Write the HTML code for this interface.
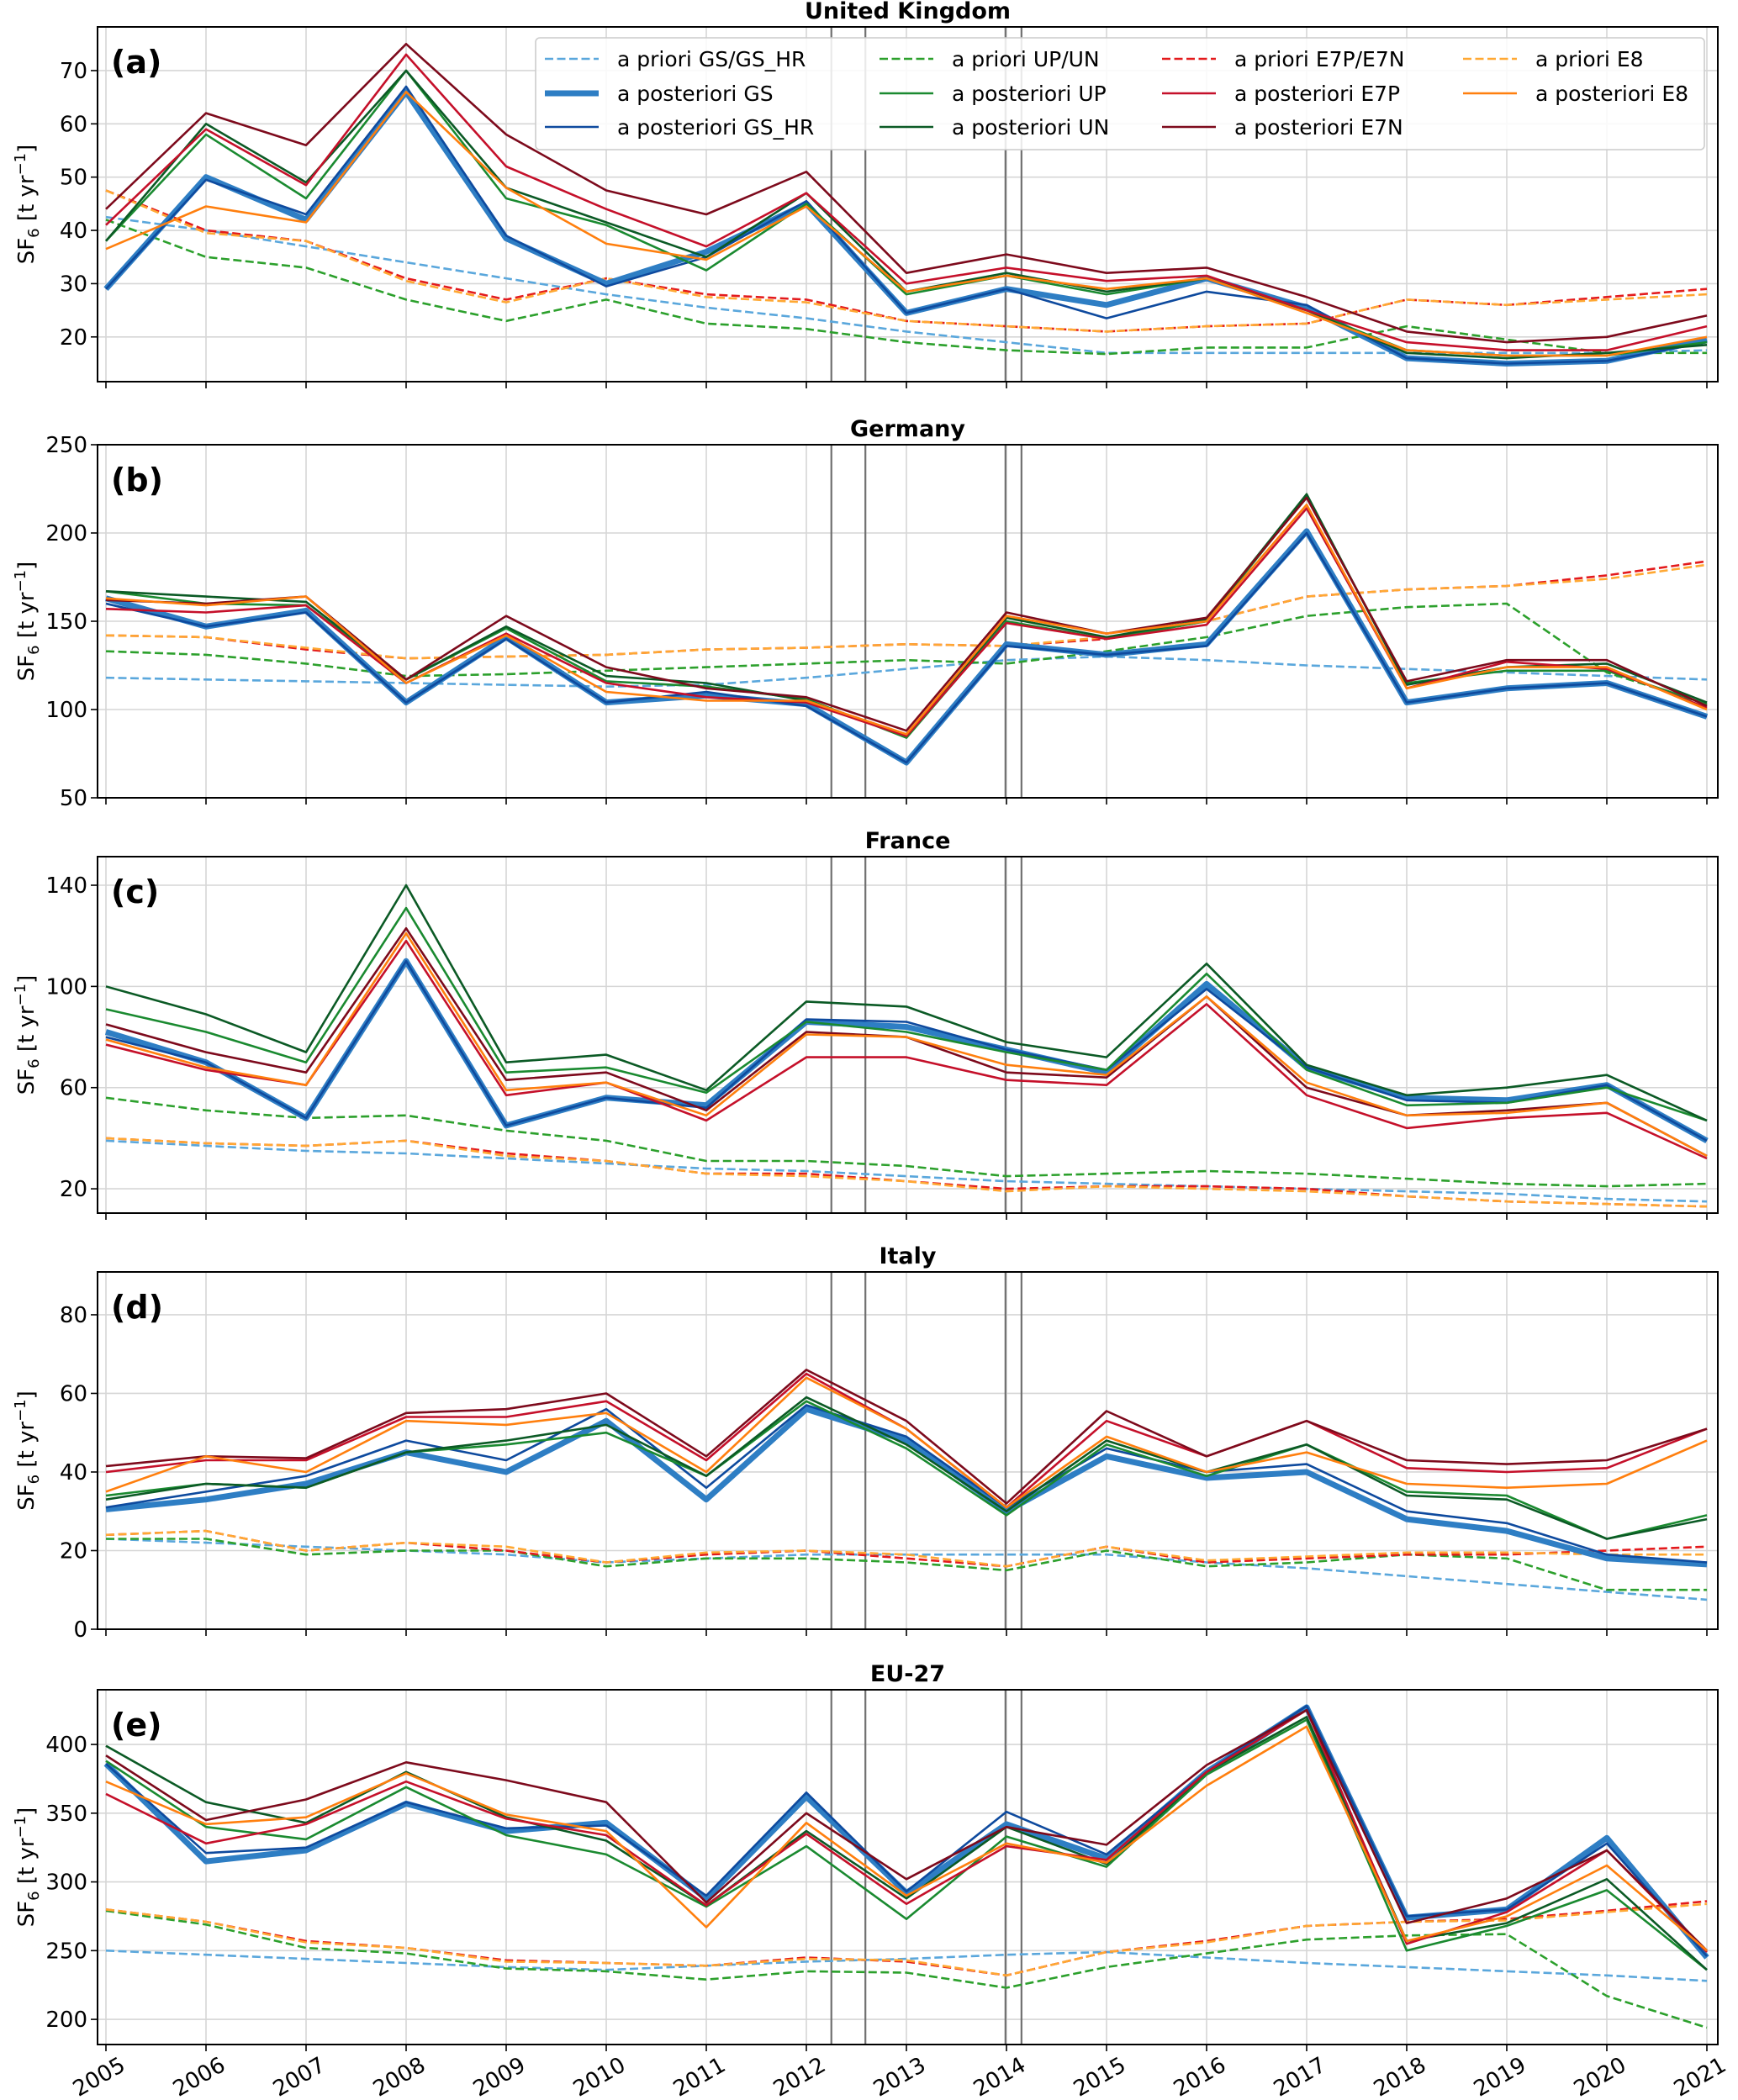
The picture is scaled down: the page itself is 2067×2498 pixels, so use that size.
<!DOCTYPE html>
<html><head><meta charset="utf-8">
<style>
html,body{margin:0;padding:0;background:#fff;}
svg{display:block;font-family:"DejaVu Sans","Liberation Sans",sans-serif;}
</style></head>
<body>
<svg id="chart" width="2067" height="2498" viewBox="0 0 2067 2498" xmlns="http://www.w3.org/2000/svg"></svg>
<script>
const years = [2005,2006,2007,2008,2009,2010,2011,2012,2013,2014,2015,2016,2017,2018,2019,2020,2021];
const panelTitles = ["United Kingdom","Germany","France","Italy","EU-27"];
const panelLetters = ["(a)","(b)","(c)","(d)","(e)"];
const yTicksA = [20,30,40,50,60,70];
const yTicksB = [50,100,150,200,250];
const yTicksC = [20,60,100,140];
const yTicksD = [0,20,40,60,80];
const yTicksE = [200,250,300,350,400];
const verticalMarkers = [2012.25,2012.59,2013.99,2014.15];

// United Kingdom
const ukPrioriGS=[42.5,40,37,34,31,28,25.5,23.5,21,19,17,17,17,17,17,17,17.5];
const ukPostGS=[29,50,42,66,38.5,30,36,45,24.5,29,26,31,25.5,16,15,15.5,19.5];
const ukPostGSHR=[29,49.5,43,67,39,29.5,35,45.5,24.5,29,23.5,28.5,26,16,15,15.5,19];
const ukPrioriUP=[42,35,33,27,23,27,22.5,21.5,19,17.5,16.8,18,18,22,19.5,17,17];
const ukPostUP=[38,58,46,70,46,41,32.5,45,28,31.5,28,31,25,17.5,16.5,16.5,19];
const ukPostUN=[38,60,49,70,48,41.5,35,47,28.5,32,28.5,31,25,17,16,17,18.5];
const ukPrioriE7=[47.5,40,38,31,27,31,28,27,23,22,21,22,22.5,27,26,27.5,29];
const ukPostE7P=[41,59,48.5,73,52,44,37,47,30,33,30.5,31.5,25,19,17.5,17.5,22];
const ukPostE7N=[44,62,56,75,58,47.5,43,51,32,35.5,32,33,27.5,21,19,20,24];
const ukPrioriE8=[47.5,39.5,38,30.5,26.5,31,27.5,26.5,23,22,21,22,22.5,27,26,27,28];
const ukPostE8=[36.5,44.5,41.5,66,48,37.5,34.5,44.5,28.5,31.5,29,31,24.5,17.5,16.5,16.5,20];
// Germany
const dePrioriGS=[118,117,116,115,114,113,114,118,123,128,130,128,125,123,121,119,117];
const dePostGS=[163,147,156,104,141,104,108,103,70,137,131,137,201,104,112,115,96];
const dePostGSHR=[160,147,155,104,140,104,110,102,70,136,131,136,200,104,112,115,96];
const dePrioriUP=[133,131,126,119,120,122,124,126,128,126,133,141,153,158,160,121,103];
const dePostUP=[167,160,159,117,146,116,113,106,84,150,140,150,221,115,122,122,103];
const dePostUN=[167,164,161,117,147,119,115,105,85,152,141,151,222,114,124,126,104];
const dePrioriE7=[142,141,134,129,130,131,134,135,137,136,140,150,164,168,170,176,184];
const dePostE7P=[157,155,159,115,143,115,107,104,85,149,140,148,214,112,127,123,101];
const dePostE7N=[162,160,164,117,153,124,112,107,88,155,143,152,220,116,128,128,102];
const dePrioriE8=[142,141,135,129,130,131,134,135,137,136,141,150,164,168,170,174,182];
const dePostE8=[163,159,164,115,142,110,105,105,86,153,143,150,216,112,124,124,100];
// France
const frPrioriGS=[39,37,35,34,32,30,28,27,25,23,22,21,20,19,18,16,15];
const frPostGS=[82,70,48,110,45,56,53,86,84,75,66,101,68,56,55,61,39];
const frPostGSHR=[80,70,48,110,45,56,52,87,86,75,67,99,68,55,54,61,39];
const frPrioriUP=[56,51,48,49,43,39,31,31,29,25,26,27,26,24,22,21,22];
const frPostUP=[91,82,70,131,66,68,58,86,82,74,67,105,67,53,54,60,47];
const frPostUN=[100,89,74,140,70,73,59,94,92,78,72,109,69,57,60,65,47];
const frPrioriE7=[40,38,37,39,34,31,26,26,23,20,21,21,20,17,15,14,13];
const frPostE7P=[77,67,61,118,57,62,47,72,72,63,61,93,57,44,48,50,32];
const frPostE7N=[85,74,66,123,63,66,51,82,80,66,64,96,60,49,51,54,33];
const frPrioriE8=[40,38,37,39,33,31,26,25,23,19,21,20,19,17,15,14,13];
const frPostE8=[79,68,61,121,59,62,49,81,80,69,65,96,62,49,50,54,33];
// Italy
const itPrioriGS=[23,22,21,20,19,17,18,19,19,19,19,17,15.5,13.5,11.5,9.5,7.5];
const itPostGS=[30.5,33,37,45,40,53,33,56,48,30,44,38.5,40,28,25,18,16.5];
const itPostGSHR=[31,35,39,48,43,56,36,57,49,31,46,40,42,30,27,19,17];
const itPrioriUP=[23,23,19,20,20,16,18,18,17,15,20,16,17,19,18,10,10];
const itPostUP=[34,37,36,45,47,50,39,58,46,29,47,39,47,35,34,23,29];
const itPostUN=[33,37,36,45,48,52,39,59,47,30,48,40,47,34,33,23,28];
const itPrioriE7=[24,25,20,22,20,17,19,20,18,16,21,17,18,19,19,20,21];
const itPostE7P=[40,43,43,54,54,58,43,65,51,31,53,44,53,41,40,41,51];
const itPostE7N=[41.5,44,43.5,55,56,60,44,66,53,32,55.5,44,53,43,42,43,51];
const itPrioriE8=[24,25,20,22,21,17,19.5,20,19,16,21,17.5,18.5,19.5,19.5,19,19];
const itPostE8=[35,44,40,53,52,55,40,64,51,31,49,40,45,37,36,37,48];
// EU-27
const euPrioriGS=[250,247,244,241,238,236,239,242,244,247,249,245,241,238,235,232,228];
const euPostGS=[386,315,323,357,337,343,288,362,292,342,317,380,427,274,280,332,245];
const euPostGSHR=[386,321,325,358,339,341,290,365,293,351,320,380,428,275,280,328,246];
const euPrioriUP=[279,269,252,248,237,235,229,235,234,223,238,248,258,261,262,217,194];
const euPostUP=[388,340,331,369,334,320,282,326,273,333,311,378,418,250,268,294,236];
const euPostUN=[399,358,343,380,347,330,283,337,288,340,313,380,420,257,270,302,236];
const euPrioriE7=[280,271,257,252,243,241,239,245,242,232,249,257,268,271,273,279,286];
const euPostE7P=[364,328,342,373,346,334,283,335,284,326,316,380,425,255,278,323,249];
const euPostE7N=[392,345,360,387,374,358,285,350,302,340,327,385,425,270,288,323,250];
const euPrioriE8=[280,271,256,252,242,241,239,244,243,232,249,256,268,271,272,278,284];
const euPostE8=[373,342,347,379,349,337,267,343,290,328,314,370,413,257,275,312,250];

const NS="http://www.w3.org/2000/svg";
const svg=document.getElementById('chart');
function mk(tag,attrs,parent){const e=document.createElementNS(NS,tag);for(const k in attrs)e.setAttribute(k,attrs[k]);(parent||svg).appendChild(e);return e;}

const seriesStyles=[
 {key:'prioriGS',label:'a priori GS/GS_HR',color:'#5aa7dc',w:2.6,dash:'10,4.5'},
 {key:'prioriUP',label:'a priori UP/UN',color:'#2ca02c',w:2.6,dash:'10,4.5'},
 {key:'prioriE7',label:'a priori E7P/E7N',color:'#e31a1c',w:2.6,dash:'10,4.5'},
 {key:'prioriE8',label:'a priori E8',color:'#ffa833',w:2.6,dash:'10,4.5'},
 {key:'postGS',label:'a posteriori GS',color:'#2e7ec4',w:7,dash:null},
 {key:'postUP',label:'a posteriori UP',color:'#1a8a30',w:2.6,dash:null},
 {key:'postE7P',label:'a posteriori E7P',color:'#c5102a',w:2.6,dash:null},
 {key:'postE8',label:'a posteriori E8',color:'#ff7f0e',w:2.6,dash:null},
 {key:'postGSHR',label:'a posteriori GS_HR',color:'#0e4a9e',w:2.6,dash:null},
 {key:'postUN',label:'a posteriori UN',color:'#0b5a25',w:2.6,dash:null},
 {key:'postE7N',label:'a posteriori E7N',color:'#7d0a1c',w:2.6,dash:null}
];
const drawOrder=['prioriGS','prioriUP','prioriE7','prioriE8','postGS','postGSHR','postUP','postUN','postE7P','postE7N','postE8'];

const panels=[
 {top:32,bottom:454,ymin:11.6,ymax:78.2,ticks:yTicksA,d:{prioriGS:ukPrioriGS,postGS:ukPostGS,postGSHR:ukPostGSHR,prioriUP:ukPrioriUP,postUP:ukPostUP,postUN:ukPostUN,prioriE7:ukPrioriE7,postE7P:ukPostE7P,postE7N:ukPostE7N,prioriE8:ukPrioriE8,postE8:ukPostE8}},
 {top:529,bottom:949,ymin:50,ymax:250,ticks:yTicksB,d:{prioriGS:dePrioriGS,postGS:dePostGS,postGSHR:dePostGSHR,prioriUP:dePrioriUP,postUP:dePostUP,postUN:dePostUN,prioriE7:dePrioriE7,postE7P:dePostE7P,postE7N:dePostE7N,prioriE8:dePrioriE8,postE8:dePostE8}},
 {top:1019,bottom:1443,ymin:10.4,ymax:151.3,ticks:yTicksC,d:{prioriGS:frPrioriGS,postGS:frPostGS,postGSHR:frPostGSHR,prioriUP:frPrioriUP,postUP:frPostUP,postUN:frPostUN,prioriE7:frPrioriE7,postE7P:frPostE7P,postE7N:frPostE7N,prioriE8:frPrioriE8,postE8:frPostE8}},
 {top:1513,bottom:1938,ymin:0,ymax:90.9,ticks:yTicksD,d:{prioriGS:itPrioriGS,postGS:itPostGS,postGSHR:itPostGSHR,prioriUP:itPrioriUP,postUP:itPostUP,postUN:itPostUN,prioriE7:itPrioriE7,postE7P:itPostE7P,postE7N:itPostE7N,prioriE8:itPrioriE8,postE8:itPostE8}},
 {top:2010,bottom:2432,ymin:181.7,ymax:439.8,ticks:yTicksE,d:{prioriGS:euPrioriGS,postGS:euPostGS,postGSHR:euPostGSHR,prioriUP:euPrioriUP,postUP:euPostUP,postUN:euPostUN,prioriE7:euPrioriE7,postE7P:euPostE7P,postE7N:euPostE7N,prioriE8:euPrioriE8,postE8:euPostE8}}
];
const LEFT=116,RIGHT=2043,X0=126,X1=2030;
function xs(yr){return X0+(yr-years[0])*(X1-X0)/(years[years.length-1]-years[0]);}

panels.forEach((p,pi)=>{
  const ys=v=>p.bottom-(v-p.ymin)*(p.bottom-p.top)/(p.ymax-p.ymin);
  const g=mk('g',{});
  
  
  // grid
  years.forEach(yr=>{const l=mk('line',{x1:xs(yr),x2:xs(yr),y1:p.top,y2:p.bottom,stroke:'#d6d6d6','stroke-width':1.6},g);
    });
  p.ticks.forEach(t=>{const y=ys(t);
    const l=mk('line',{x1:LEFT,x2:RIGHT,y1:y,y2:y,stroke:'#d6d6d6','stroke-width':1.6},g);
    
    const tk=mk('line',{x1:LEFT-8,x2:LEFT,y1:y,y2:y,stroke:'#000','stroke-width':1.6},g);
    
    const tx=mk('text',{x:LEFT-12,y:y+9,'text-anchor':'end','font-size':26,fill:'#000'},g);tx.textContent=t;
    });
  years.forEach(yr=>{const tk=mk('line',{x1:xs(yr),x2:xs(yr),y1:p.bottom,y2:p.bottom+8,stroke:'#000','stroke-width':1.6},g);
    });
  // markers
  verticalMarkers.forEach(m=>{const l=mk('line',{x1:xs(m),x2:xs(m),y1:p.top,y2:p.bottom,stroke:'#707070','stroke-width':2.2},g);
    });
  // series
  drawOrder.forEach(k=>{const st=seriesStyles.find(s=>s.key===k);const vals=p.d[k];
    const pts=vals.map((v,i)=>xs(years[i]).toFixed(1)+','+ys(v).toFixed(1)).join(' ');
    const a={points:pts,fill:'none',stroke:st.color,'stroke-width':st.w,'stroke-linejoin':'round'};
    if(st.dash)a['stroke-dasharray']=st.dash;
    const pl=mk('polyline',a,g);
    });
  // frame
  const fr=mk('rect',{x:LEFT,y:p.top,width:RIGHT-LEFT,height:p.bottom-p.top,fill:'none',stroke:'#000','stroke-width':2},g);
  
  const tt=mk('text',{x:(LEFT+RIGHT)/2,y:p.top-10,'text-anchor':'middle','font-size':27,'font-weight':'bold',fill:'#000'},g);
  tt.textContent=panelTitles[pi];
  const lt=mk('text',{x:132,y:p.top+55,'font-size':38,'font-weight':'bold',fill:'#000'},g);
  lt.textContent=panelLetters[pi];
  // y label
  const cy=(p.top+p.bottom)/2;
  const yl=mk('text',{x:0,y:0,transform:`translate(40,${cy}) rotate(-90)`,'text-anchor':'middle','font-size':26,fill:'#000'},g);
  
  yl.innerHTML='SF<tspan font-size="18" dy="6">6</tspan><tspan dy="-6"> [t yr</tspan><tspan font-size="18" dy="-10">−1</tspan><tspan dy="10">]</tspan>';
});
// x labels
years.forEach(yr=>{const x=xs(yr);const t=mk('text',{x:x,y:0,transform:`translate(${x-4},2478) rotate(-30)`,'text-anchor':'middle','font-size':26,fill:'#000'});
  t.setAttribute('x',0);t.textContent=yr;
  });

// legend
const lg=mk('g',{});

mk('rect',{x:637,y:45,width:1390,height:133,rx:5,fill:'#fff','fill-opacity':0.85,stroke:'#cccccc','stroke-width':1.6},lg);
const colX=[648,1046,1382,1740];const rowY=[70,111,151];
const legendLayout=[['prioriGS',0,0],['postGS',0,1],['postGSHR',0,2],['prioriUP',1,0],['postUP',1,1],['postUN',1,2],['prioriE7',2,0],['postE7P',2,1],['postE7N',2,2],['prioriE8',3,0],['postE8',3,1]];
legendLayout.forEach(([k,c,r])=>{const st=seriesStyles.find(s=>s.key===k);
  const e=mk('g',{},lg);
  const a={x1:colX[c],x2:colX[c]+64,y1:rowY[r],y2:rowY[r],stroke:st.color,'stroke-width':st.w};
  if(st.dash)a['stroke-dasharray']=st.dash;mk('line',a,e);
  const t=mk('text',{x:colX[c]+86,y:rowY[r]+9,'font-size':25,fill:'#000'},e);t.textContent=st.label;});
</script>
</body></html>
